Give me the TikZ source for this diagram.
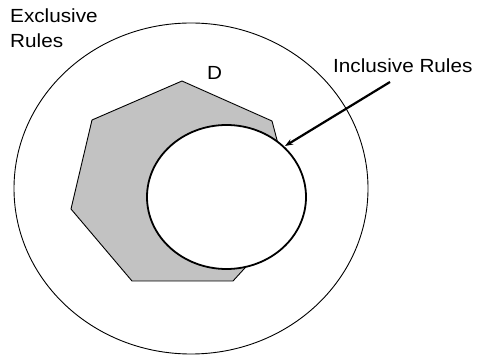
\documentclass[tikz,border=0pt]{standalone}
\usepackage{fontspec}
\setmainfont[FakeStretch=1.09]{Liberation Sans}
\usetikzlibrary{shapes.geometric,arrows.meta}
\begin{document}
\begin{tikzpicture}[x=1pt,y=-1pt,
  lbl/.style={anchor=base west,inner sep=0pt,font=\fontsize{19}{21}\selectfont},
  ring/.style={ellipse,draw,inner sep=0pt},
  poly/.style={draw,line width=0.9pt,fill=black!24,line join=miter}]
\useasboundingbox (0,0) rectangle (479,355);
\node[ring,line width=0.9pt,minimum width=354pt,minimum height=331pt] (outer) at (191,188.5) {};
\draw[poly] (182,81) -- (272,121) -- (296,212) -- (233,281) -- (132,281) -- (71,209) -- (92,120) -- cycle;
\node[ring,line width=1.8pt,fill=white,minimum width=159pt,minimum height=144pt] (inner) at (226.5,197) {};
\node[lbl] (ex) at (10,23) {Exclusive};
\node[lbl] (ru) at (10,48) {Rules};
\node[lbl] (inc) at (333,72.5) {Inclusive Rules};
\node[lbl] (d) at (207,80) {D};
\coordinate (as) at (390,82);
\coordinate (ae) at (285,146);
\draw[line width=2.2pt,-{Stealth[length=8pt,width=6pt]}] (as) -- (ae);
\end{tikzpicture}
\end{document}
